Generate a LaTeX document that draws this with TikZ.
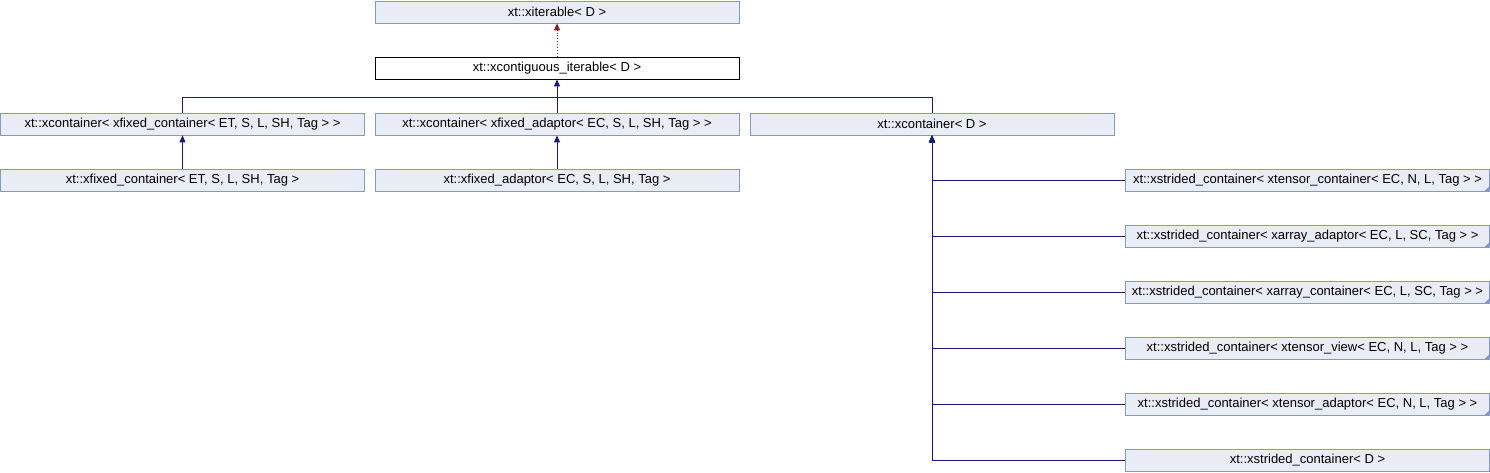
\documentclass[tikz,border=0pt]{standalone}
\usepackage{fontspec}
\setmainfont{Liberation Sans}
\usetikzlibrary{arrows.meta}
\definecolor{nodefill}{HTML}{E8ECF5}
\definecolor{nodeborder}{HTML}{8497C9}
\definecolor{edgeblue}{HTML}{191980}
\definecolor{edgered}{HTML}{8B1A1A}
\tikzset{
  cls/.style={draw=nodeborder, fill=nodefill, line width=0.8pt, minimum width=364pt, minimum height=22pt, inner sep=0pt, font=\fontsize{13pt}{15pt}\selectfont},
  clsmain/.style={cls, draw=black, fill=white},
  trunc/.style={cls, path picture={\fill[nodeborder] (path picture bounding box.south east) -- ++(-5pt,0) -- ++(5pt,5pt) -- cycle;}},
  inh/.style={draw=edgeblue, line width=0.9pt, -{Triangle[width=6pt,length=7pt]}},
  inhline/.style={draw=edgeblue, line width=0.9pt},
  tmpl/.style={draw=edgered, line width=0.9pt, dotted, -{Triangle[width=6pt,length=7pt]}}
}
\begin{document}
\begin{tikzpicture}[x=1pt,y=-1pt]
\useasboundingbox (0,0) rectangle (1490,472);
\node[cls] (iter) at (557,12) {xt::xiterable\textless{} D \textgreater{}};
\node[clsmain] (cont) at (557,68) {xt::xcontiguous\_iterable\textless{} D \textgreater{}};
\node[cls] (xcfc) at (182.5,124) {xt::xcontainer\textless{} xfixed\_container\textless{} ET, S, L, SH, Tag \textgreater{} \textgreater{}};
\node[cls] (xcfa) at (557,124) {xt::xcontainer\textless{} xfixed\_adaptor\textless{} EC, S, L, SH, Tag \textgreater{} \textgreater{}};
\node[cls] (xcd) at (932,124) {xt::xcontainer\textless{} D \textgreater{}};
\node[cls] (xfc) at (182.5,180) {xt::xfixed\_container\textless{} ET, S, L, SH, Tag \textgreater{}};
\node[cls] (xfa) at (557,180) {xt::xfixed\_adaptor\textless{} EC, S, L, SH, Tag \textgreater{}};
\node[trunc] (r1) at (1307.5,180) {xt::xstrided\_container\textless{} xtensor\_container\textless{} EC, N, L, Tag \textgreater{} \textgreater{}};
\node[trunc] (r2) at (1307.5,236) {xt::xstrided\_container\textless{} xarray\_adaptor\textless{} EC, L, SC, Tag \textgreater{} \textgreater{}};
\node[trunc] (r3) at (1307.5,292) {xt::xstrided\_container\textless{} xarray\_container\textless{} EC, L, SC, Tag \textgreater{} \textgreater{}};
\node[trunc] (r4) at (1307.5,348) {xt::xstrided\_container\textless{} xtensor\_view\textless{} EC, N, L, Tag \textgreater{} \textgreater{}};
\node[trunc] (r5) at (1307.5,404) {xt::xstrided\_container\textless{} xtensor\_adaptor\textless{} EC, N, L, Tag \textgreater{} \textgreater{}};
\node[cls] (r6) at (1307.5,460) {xt::xstrided\_container\textless{} D \textgreater{}};
\coordinate (bus) at (557,97);
\draw[tmpl] (cont.north) -- (iter.south);
\draw[inh] (xcfa.north) -- (cont.south);
\draw[inhline] (xcfc.north) |- (bus);
\draw[inhline] (xcd.north) |- (bus);
\draw[inh] (xfc.north) -- (xcfc.south);
\draw[inh] (xfa.north) -- (xcfa.south);
\foreach \r in {r1,r2,r3,r4,r5,r6} {
  \draw[inh] (\r.west) -| (xcd.south);
}
\end{tikzpicture}
\end{document}
